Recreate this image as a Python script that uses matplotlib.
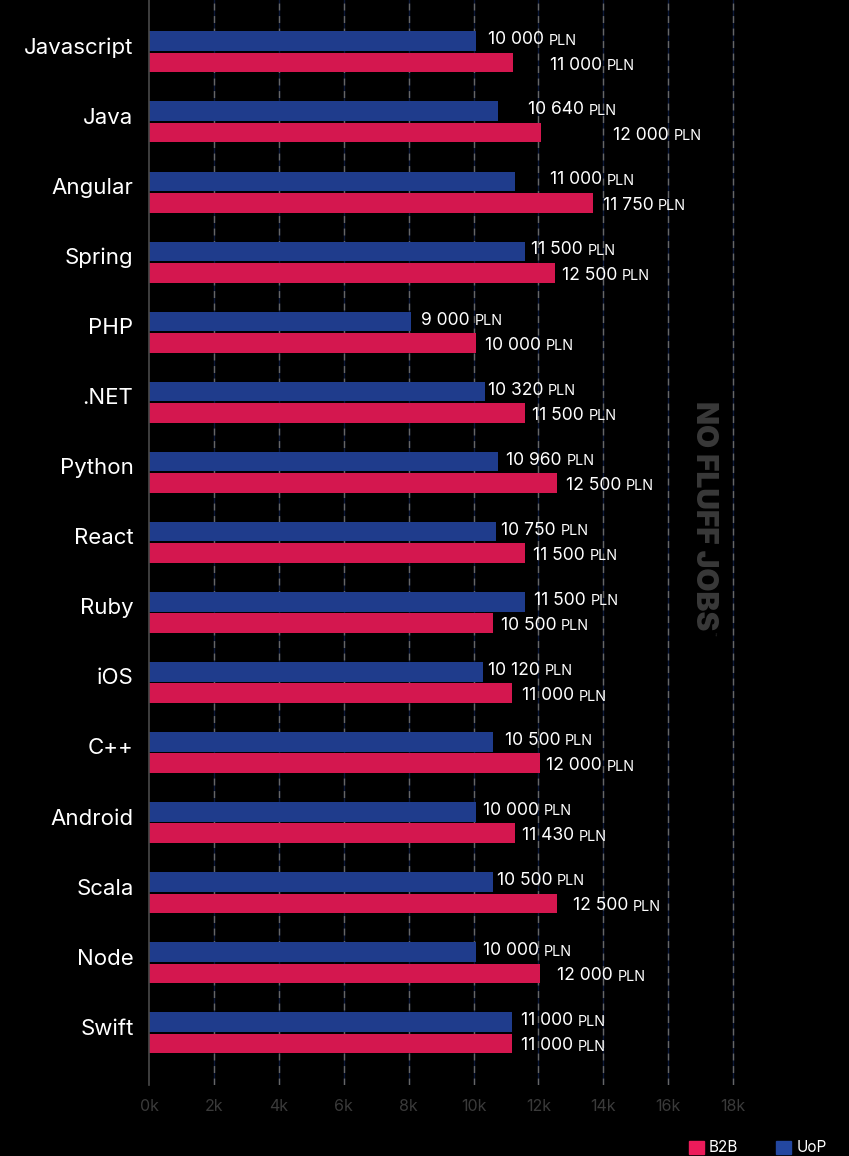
import numpy as np
import matplotlib
matplotlib.use("Agg")
import matplotlib.pyplot as plt
from matplotlib.patches import Patch
import matplotlib.transforms as mtransforms

plt.rcParams['font.family'] = ['Inter', 'DejaVu Sans']

categories = ['Javascript', 'Java', 'Angular', 'Spring', 'PHP', '.NET', 'Python',
              'React', 'Ruby', 'iOS', 'C++', 'Android', 'Scala', 'Node', 'Swift']

# bar lengths as drawn in the picture (PLN)
uop_bar = [10080, 10760, 11280, 11580, 8070, 10350, 10760,
           10690, 11580, 10280, 10590, 10080, 10590, 10080, 11190]
b2b_bar = [11220, 12080, 13670, 12510, 10080, 11580, 12560,
           11580, 10590, 11190, 12050, 11280, 12560, 12050, 11190]

# printed values
uop_label = ['10 000', '10 640', '11 000', '11 500', '9 000', '10 320', '10 960',
             '10 750', '11 500', '10 120', '10 500', '10 000', '10 500', '10 000', '11 000']
b2b_label = ['11 000', '12 000', '11 750', '12 500', '10 000', '11 500', '12 500',
             '11 500', '10 500', '11 000', '12 000', '11 430', '12 500', '12 000', '11 000']

xticks = [0, 2000, 4000, 6000, 8000, 10000, 12000, 14000, 16000, 18000]
xtick_labels = ['0k', '2k', '4k', '6k', '8k', '10k', '12k', '14k', '16k', '18k']

# label gap after bar end, px
uop_gap = [12, 30, 35, 6, 10, 3, 8, 5, 9, 5, 12, 7, 4, 7, 9]
b2b_gap = [37, 72, 10, 7, 9, 7, 9, 8, 8, 10, 6, 7, 16, 17, 9]

RED = '#d4174f'
BLUE = '#1f3c8c'

W, H = 849, 1156
fig = plt.figure(figsize=(W / 100, H / 100), dpi=100, facecolor='black')
ax = fig.add_axes([149 / W, 1 - 1085 / H, 700 / W, 1085 / H])
ax.set_facecolor('black')

y = np.arange(len(categories))
bh = 0.28

for xv in xticks[1:]:
    ax.axvline(xv, color='#0b1838', lw=1, zorder=0)
    ax.axvline(xv, color='#666666', lw=1, dashes=(5, 4), zorder=0.5)

ax.barh(y - 0.155, uop_bar, height=bh, color=BLUE, zorder=2)
ax.barh(y + 0.15, b2b_bar, height=bh, color=RED, zorder=2)

def put_label(xv, yv, txt, gap):
    t = ax.annotate(txt, xy=(xv, yv), xytext=(gap * 0.72, 0), textcoords='offset points',
                    ha='left', va='center', color='white', fontsize=12.6, zorder=3)
    ax.annotate('PLN', xy=(1, 0), xycoords=t, xytext=(3.5, 0.4), textcoords='offset points',
                ha='left', va='bottom', color='white', fontsize=10.4, zorder=3)

for i in range(len(categories)):
    put_label(uop_bar[i], y[i] - 0.175, uop_label[i], uop_gap[i])
    put_label(b2b_bar[i], y[i] + 0.185, b2b_label[i], b2b_gap[i])

ax.set_xlim(0, 21570)
ax.set_ylim(len(categories) - 1 + 0.743, -0.743)

# category names
cat_tr = mtransforms.blended_transform_factory(fig.transFigure, ax.transData)
for i, c in enumerate(categories):
    ax.text(133.5 / W, y[i] - 0.06, c, transform=cat_tr, ha='right', va='center',
            color='white', fontsize=16)
ax.set_yticks([])

ax.set_xticks(xticks)
ax.set_xticklabels(xtick_labels, color='#3a3a3a', fontsize=11.5)
ax.tick_params(axis='x', length=0, pad=10)

for s in ['top', 'right', 'bottom']:
    ax.spines[s].set_visible(False)
ax.spines['left'].set_color('#4a4a4a')
ax.spines['left'].set_linewidth(1.2)

fig.text(704 / W, 1 - 516 / H, 'NO FLUFF JOBS', rotation=-90, ha='center', va='center',
         color='#393939', fontsize=21.5, fontweight='black')
fig.text(714 / W, 1 - 634 / H, '™', rotation=-90, ha='center', va='center',
         color='#393939', fontsize=4)

handles = [Patch(color='#ec1b5a', label='B2B'), Patch(color='#2347a0', label='UoP')]
fig.legend(handles=handles, loc='center left', bbox_to_anchor=(689 / W, 1 - 1148 / H),
           ncol=2, frameon=False, fontsize=11, labelcolor='white',
           handlelength=0.97, handleheight=0.97, handletextpad=0.33,
           columnspacing=2.5, borderpad=0, borderaxespad=0)

fig.savefig('out.png', dpi=100, facecolor='black')
